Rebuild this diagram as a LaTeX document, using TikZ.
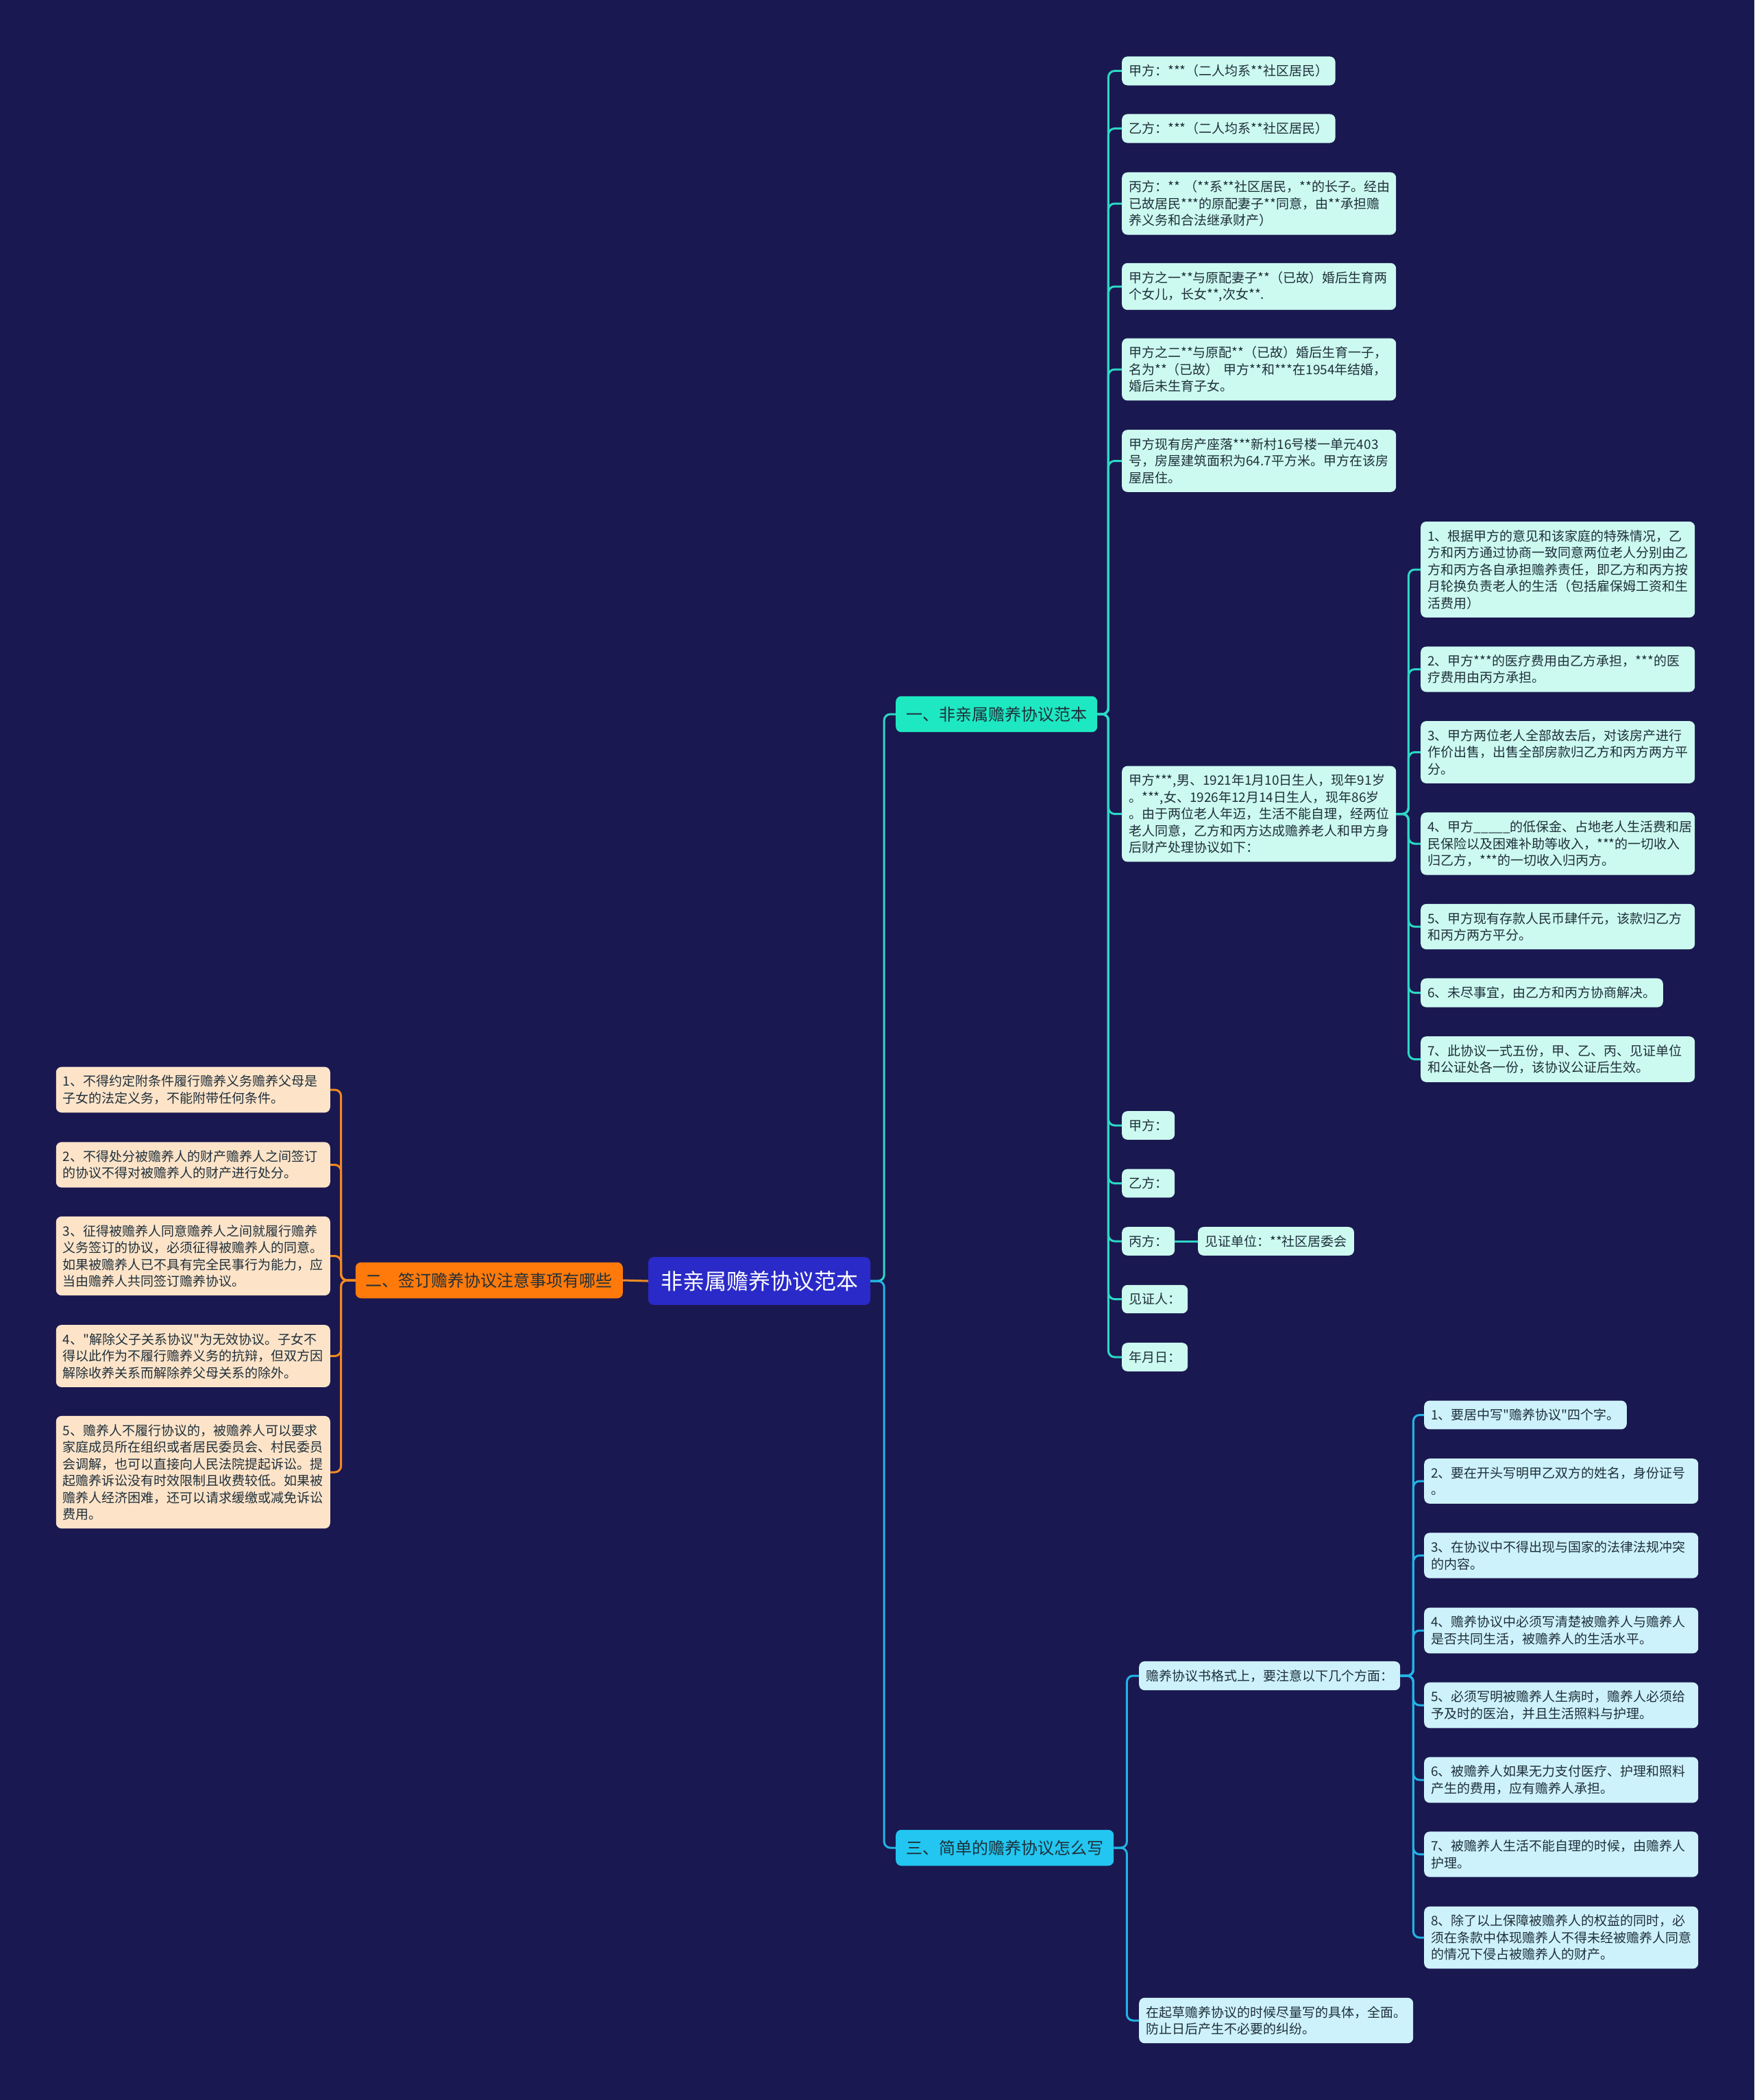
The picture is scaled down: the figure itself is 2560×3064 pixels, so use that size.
\documentclass[tikz,border=0pt]{standalone}
\usepackage{fontspec}
\setmainfont{Noto Sans CJK SC}[Ligatures=TeXOff]

\definecolor{bgnavy}{HTML}{1A1850}
\definecolor{rootblue}{HTML}{2A2AC8}
\definecolor{tealfill}{HTML}{1EE8C2}
\definecolor{tealline}{HTML}{2CD8C4}
\definecolor{mint}{HTML}{CCFAF0}
\definecolor{orangefill}{HTML}{FF7A0A}
\definecolor{orangeline}{HTML}{F28A22}
\definecolor{peach}{HTML}{FDE4C9}
\definecolor{cyanfill}{HTML}{22C6F0}
\definecolor{cyanline}{HTML}{22B4E6}
\definecolor{icecyan}{HTML}{CDF2FB}
\definecolor{inkdark}{HTML}{1F2F3A}

\newcommand{\leafsize}{\fontsize{19}{24.5}\selectfont}

\tikzset{
  box/.style={rounded corners=8pt, anchor=west},
  rootbox/.style={box, anchor=center, fill=rootblue, text=white, font=\fontsize{32}{38}\selectfont, inner xsep=18pt, inner ysep=20pt},
  branchbox/.style={box, text=inkdark, font=\fontsize{24}{29}\selectfont, inner xsep=15pt, inner ysep=15pt},
  leafbox/.style={box, text=inkdark, font=\leafsize, inner xsep=10pt, inner ysep=12pt},
  wide/.style={text width=380pt, align=left},
  link/.style={line width=3pt, rounded corners=9pt},
}

\begin{document}
\begin{tikzpicture}[x=1pt,y=-1pt]
    \fill[bgnavy] (0,0) rectangle (2560,3064);
    \useasboundingbox (0,0) rectangle (2560,3064);

    % centre and the three branches
    \node[rootbox] (root) at (1108,1869) {非亲属赡养协议范本};
    \node[branchbox, fill=tealfill] (b1) at (1307,1042) {一、非亲属赡养协议范本};
    \node[branchbox, fill=orangefill, anchor=east] (b2) at (909,1868) {二、签订赡养协议注意事项有哪些};
    \node[branchbox, fill=cyanfill] (b3) at (1307,2696) {三、简单的赡养协议怎么写};

    %---------------------------------------------------------------%
    \node[leafbox, fill=mint] (c1) at (1637,103.5) {甲方：***（二人均系**社区居民）};
    \node[leafbox, fill=mint] (c2) at (1637,187.5) {乙方：***（二人均系**社区居民）};
    \node[leafbox, fill=mint, wide] (c3) at (1637,297) {丙方：**~（**系**社区居民，**的长子。经由\\已故居民***的原配妻子**同意，由**承担赡\\养义务和合法继承财产）};
    \node[leafbox, fill=mint, wide] (c4) at (1637,418) {甲方之一**与原配妻子**（已故）婚后生育两\\个女儿，长女**,次女**.};
    \node[leafbox, fill=mint, wide] (c5) at (1637,539) {甲方之二**与原配**（已故）婚后生育一子，\\名为**（已故）~甲方**和***在1954年结婚，\\婚后未生育子女。};
    \node[leafbox, fill=mint, wide] (c6) at (1637,672.5) {甲方现有房产座落***新村16号楼一单元403\\号，房屋建筑面积为64.7平方米。甲方在该房\\屋居住。};
    \node[leafbox, fill=mint, wide] (c7) at (1637,1187.5) {甲方***,男、1921年1月10日生人，现年91岁\\。***,女、1926年12月14日生人，现年86岁\\。由于两位老人年迈，生活不能自理，经两位\\老人同意，乙方和丙方达成赡养老人和甲方身\\后财产处理协议如下：};
    \node[leafbox, fill=mint] (c8) at (1637,1642) {甲方：};
    \node[leafbox, fill=mint] (c9) at (1637,1726.5) {乙方：};
    \node[leafbox, fill=mint] (c10) at (1637,1811) {丙方：};
    \node[leafbox, fill=mint] (witness) at (1748,1811) {见证单位：**社区居委会};
    \node[leafbox, fill=mint] (c11) at (1637,1895.5) {见证人：};
    \node[leafbox, fill=mint] (c12) at (1637,1980) {年月日：};

    \node[leafbox, fill=mint, wide] (d1) at (2073,831) {1、根据甲方的意见和该家庭的特殊情况，乙\\方和丙方通过协商一致同意两位老人分别由乙\\方和丙方各自承担赡养责任，即乙方和丙方按\\月轮换负责老人的生活（包括雇保姆工资和生\\活费用）};
    \node[leafbox, fill=mint, wide] (d2) at (2073,976.5) {2、甲方***的医疗费用由乙方承担，***的医\\疗费用由丙方承担。};
    \node[leafbox, fill=mint, wide] (d3) at (2073,1097.5) {3、甲方两位老人全部故去后，对该房产进行\\作价出售，出售全部房款归乙方和丙方两方平\\分。};
    \node[leafbox, fill=mint, wide] (d4) at (2073,1231) {4、甲方\_\_\_\_\_的低保金、占地老人生活费和居\\民保险以及困难补助等收入，***的一切收入\\归乙方，***的一切收入归丙方。};
    \node[leafbox, fill=mint, wide] (d5) at (2073,1352) {5、甲方现有存款人民币肆仟元，该款归乙方\\和丙方两方平分。};
    \node[leafbox, fill=mint] (d6) at (2073,1448.5) {6、未尽事宜，由乙方和丙方协商解决。};
    \node[leafbox, fill=mint, wide] (d7) at (2073,1545.5) {7、此协议一式五份，甲、乙、丙、见证单位\\和公证处各一份，该协议公证后生效。};

    \foreach \i in {1,...,12}{% branch one to its items
        \draw[link, tealline] (b1.east) -- ++(16,0) |- (c\i.west);
    }
    \foreach \i in {1,...,7}{% the articles
        \draw[link, tealline] (c7.east) -- ++(18,0) |- (d\i.west);
    }
    \draw[link, tealline] (c10.east) -- (witness.west);

    %---------------------------------------------------------------%
    \node[leafbox, fill=peach, wide, anchor=east] (g1) at (482,1590) {1、不得约定附条件履行赡养义务赡养父母是\\子女的法定义务，不能附带任何条件。};
    \node[leafbox, fill=peach, wide, anchor=east] (g2) at (482,1699.5) {2、不得处分被赡养人的财产赡养人之间签订\\的协议不得对被赡养人的财产进行处分。};
    \node[leafbox, fill=peach, wide, anchor=east] (g3) at (482,1832.5) {3、征得被赡养人同意赡养人之间就履行赡养\\义务签订的协议，必须征得被赡养人的同意。\\如果被赡养人已不具有完全民事行为能力，应\\当由赡养人共同签订赡养协议。};
    \node[leafbox, fill=peach, wide, anchor=east] (g4) at (482,1978.5) {4、"解除父子关系协议"为无效协议。子女不\\得以此作为不履行赡养义务的抗辩，但双方因\\解除收养关系而解除养父母关系的除外。};
    \node[leafbox, fill=peach, wide, anchor=east] (g5) at (482,2148) {5、赡养人不履行协议的，被赡养人可以要求\\家庭成员所在组织或者居民委员会、村民委员\\会调解，也可以直接向人民法院提起诉讼。提\\起赡养诉讼没有时效限制且收费较低。如果被\\赡养人经济困难，还可以请求缓缴或减免诉讼\\费用。};

    \foreach \i in {1,...,5}{% branch two, to the left
        \draw[link, orangeline] (b2.west) -- ++(-21,0) |- (g\i.east);
    }

    %---------------------------------------------------------------%
    \node[leafbox, fill=icecyan] (e1) at (1662,2445) {赡养协议书格式上，要注意以下几个方面：};
    \node[leafbox, fill=icecyan, wide] (e2) at (1662,2948) {在起草赡养协议的时候尽量写的具体，全面。\\防止日后产生不必要的纠纷。};

    \node[leafbox, fill=icecyan] (f1) at (2078,2064.5) {1、要居中写"赡养协议"四个字。};
    \node[leafbox, fill=icecyan, wide] (f2) at (2078,2161) {2、要在开头写明甲乙双方的姓名，身份证号\\。};
    \node[leafbox, fill=icecyan, wide] (f3) at (2078,2269.5) {3、在协议中不得出现与国家的法律法规冲突\\的内容。};
    \node[leafbox, fill=icecyan, wide] (f4) at (2078,2379) {4、赡养协议中必须写清楚被赡养人与赡养人\\是否共同生活，被赡养人的生活水平。};
    \node[leafbox, fill=icecyan, wide] (f5) at (2078,2488) {5、必须写明被赡养人生病时，赡养人必须给\\予及时的医治，并且生活照料与护理。};
    \node[leafbox, fill=icecyan, wide] (f6) at (2078,2597) {6、被赡养人如果无力支付医疗、护理和照料\\产生的费用，应有赡养人承担。};
    \node[leafbox, fill=icecyan, wide] (f7) at (2078,2705.5) {7、被赡养人生活不能自理的时候，由赡养人\\护理。};
    \node[leafbox, fill=icecyan, wide] (f8) at (2078,2827) {8、除了以上保障被赡养人的权益的同时，必\\须在条款中体现赡养人不得未经被赡养人同意\\的情况下侵占被赡养人的财产。};

    \foreach \i in {1,2}{% branch three
        \draw[link, cyanline] (b3.east) -- ++(19,0) |- (e\i.west);
    }
    \foreach \i in {1,...,8}{% the format points
        \draw[link, cyanline] (e1.east) -- ++(19,0) |- (f\i.west);
    }

    %---------------------------------------------------------------%
    \draw[link, tealline] (root.east) -- ++(20,0) |- (b1.west);
    \draw[link, cyanline] (root.east) -- ++(20,0) |- (b3.west);
    \draw[link, orangeline] (root.west) -- (b2.east);
\end{tikzpicture}
\end{document}
